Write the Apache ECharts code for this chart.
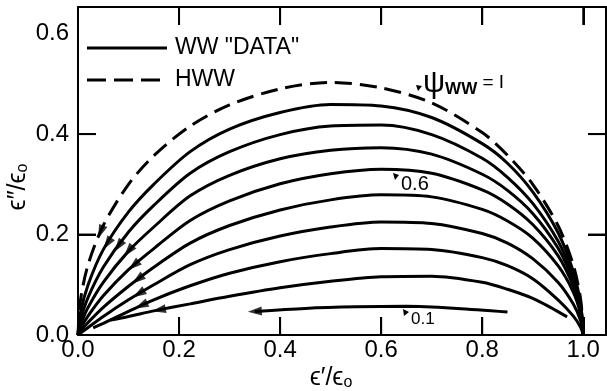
<!DOCTYPE html>
<html><head><meta charset="utf-8">
<script src="https://cdn.jsdelivr.net/npm/echarts@6/dist/echarts.min.js"></script>
<style>html,body{margin:0;padding:0;background:#fff}#c{width:607px;height:391px}</style>
</head><body><div id="c"></div>
<script>
// ---- data ----
const xTicks = [0, 0.2, 0.4, 0.6, 0.8, 1.0];
const yTicks = [0, 0.2, 0.4, 0.6];
const xTickMarks = [0.2, 0.4, 0.6, 0.8, 1.0];
const yTickMarks = [0.2, 0.4];
const X_MAX = 1.045, Y_MAX = 0.653;
const X_MAIN = [0, 0.005, 0.02, 0.05, 0.1, 0.15, 0.222, 0.3, 0.4, 0.5, 0.6, 0.7, 0.8, 0.85, 0.9, 0.95, 0.98, 0.995, 1.0];
const hwwY  = [0, 0.07, 0.14, 0.218, 0.3, 0.357, 0.416, 0.458, 0.49, 0.503, 0.492, 0.462, 0.403, 0.358, 0.3, 0.218, 0.14, 0.07, 0];
const ww09Y = [0, 0.045, 0.1, 0.17, 0.245, 0.3, 0.365, 0.41, 0.443, 0.459, 0.456, 0.433, 0.381, 0.342, 0.285, 0.204, 0.127, 0.06, 0];
const ww08Y = [0, 0.03, 0.075, 0.135, 0.205, 0.258, 0.322, 0.365, 0.399, 0.416, 0.418, 0.399, 0.352, 0.314, 0.262, 0.187, 0.117, 0.056, 0];
const ww07Y = [0, 0.02, 0.055, 0.105, 0.167, 0.215, 0.277, 0.318, 0.351, 0.368, 0.373, 0.36, 0.32, 0.288, 0.242, 0.173, 0.108, 0.052, 0];
const ww06Y = [0, 0.013, 0.038, 0.078, 0.13, 0.172, 0.228, 0.267, 0.301, 0.321, 0.33, 0.322, 0.289, 0.261, 0.22, 0.158, 0.098, 0.047, 0];
const ww05Y = [0, 0.008, 0.025, 0.055, 0.097, 0.135, 0.183, 0.218, 0.249, 0.269, 0.279, 0.275, 0.25, 0.227, 0.193, 0.138, 0.086, 0.04, 0];
const ww04Y = [0, 0.004, 0.015, 0.037, 0.07, 0.1, 0.14, 0.17, 0.197, 0.215, 0.225, 0.222, 0.202, 0.183, 0.152, 0.105, 0.062, 0.028, 0];
const ww03X = [0.03, 0.05, 0.1, 0.15, 0.222, 0.3, 0.4, 0.5, 0.6, 0.7, 0.8, 0.85, 0.9, 0.95, 0.98, 0.995, 1.0];
const ww03Y = [0.014, 0.023, 0.047, 0.07, 0.098, 0.123, 0.146, 0.162, 0.172, 0.17, 0.154, 0.138, 0.112, 0.07, 0.038, 0.015, 0];
const ww02X = [0.065, 0.1, 0.15, 0.222, 0.3, 0.4, 0.5, 0.6, 0.7, 0.8, 0.85, 0.9, 0.935, 0.968];
const ww02Y = [0.03, 0.037, 0.048, 0.062, 0.077, 0.094, 0.107, 0.116, 0.117, 0.105, 0.091, 0.073, 0.055, 0.036];
const ww01X = [0.35, 0.45, 0.55, 0.65, 0.75, 0.85];
const ww01Y = [0.047, 0.053, 0.056, 0.057, 0.053, 0.046];
// where the arrowheads sit (x position along each curve)
const curveNames = ['HWW', '0.9', '0.8', '0.7', '0.6', '0.5', '0.4', '0.3', '0.2', '0.1'];
const arrowAtX   = [0.045, 0.058, 0.08, 0.1, 0.11, 0.118, 0.12, 0.125, 0.16, 0.35];

const curves = [
  [X_MAIN, hwwY], [X_MAIN, ww09Y], [X_MAIN, ww08Y], [X_MAIN, ww07Y], [X_MAIN, ww06Y],
  [X_MAIN, ww05Y], [X_MAIN, ww04Y], [ww03X, ww03Y], [ww02X, ww02Y], [ww01X, ww01Y]
];
function zip(xs, ys) { return xs.map((x, i) => [x, ys[i]]); }
function interp(xs, ys, x) {
  for (let i = 0; i < xs.length - 1; i++) {
    if (x >= xs[i] && x <= xs[i + 1]) {
      const t = (x - xs[i]) / (xs[i + 1] - xs[i]);
      return [ys[i] + t * (ys[i + 1] - ys[i]), (ys[i + 1] - ys[i]) / (xs[i + 1] - xs[i])];
    }
  }
  return [ys[0], 0];
}
const FONT = 'Liberation Sans';
const chart = echarts.init(document.getElementById('c'), null, { renderer: 'canvas' });

const series = curves.map((c, i) => ({
  type: 'line',
  name: i === 0 ? 'HWW' : 'WW "DATA"',
  data: zip(c[0], c[1]),
  smooth: 0.3,
  showSymbol: false,
  symbol: 'none',
  silent: true,
  lineStyle: { color: '#000', width: 3, type: i === 0 ? [17, 8] : 'solid', cap: 'butt' },
  z: 3
}));
const arrowData = curves.map((c, i) => {
  const [y, slope] = interp(c[0], c[1], arrowAtX[i]);
  return [arrowAtX[i], y, slope];
});
series.push({
  type: 'scatter',
  data: arrowData,
  symbol: 'triangle',
  symbolSize: [9, 14],
  symbolRotate: function (v) {
    const th = Math.atan2(-v[2], -1) * 180 / Math.PI;
    return th - 90;
  },
  itemStyle: { color: '#000' },
  silent: true,
  z: 4
});

// inward tick marks on all four sides, as short segments through the axis scales
const TICK_DX = 0.0356, TICK_DY = 0.0358;   // ~18 px in data units
function tickSeries(a, b) {
  return { type: 'line', data: [a, b], showSymbol: false, symbol: 'none', silent: true, clip: false,
    lineStyle: { color: '#000', width: 2, cap: 'butt' }, z: 6 };
}
xTickMarks.forEach(v => {
  series.push(tickSeries([v, 0], [v, TICK_DY]));
  series.push(tickSeries([v, Y_MAX], [v, Y_MAX - TICK_DY]));
});
yTickMarks.forEach(v => {
  series.push(tickSeries([0, v], [TICK_DX, v]));
  series.push(tickSeries([X_MAX, v], [X_MAX - TICK_DX, v]));
});

const OFF = 10;
const tickStyle = { show: true, inside: true, length: 18, lineStyle: { color: '#000', width: 2 } };
chart.setOption({
  animation: false,
  backgroundColor: '#fff',
  grid: { left: 78, right: 1, top: 7, bottom: 56 },
  xAxis: [
    { type: 'value', min: 0, max: X_MAX, interval: 0.2, position: 'bottom',
      axisLine: { show: true, lineStyle: { color: '#000', width: 2 } },
      splitLine: { show: false },
      axisTick: Object.assign({}, tickStyle, { customValues: xTickMarks }),
      axisLabel: { customValues: xTicks, formatter: v => v.toFixed(1), color: '#000', fontFamily: FONT, fontSize: 24, margin: 3 } },
    { type: 'value', min: OFF, max: OFF + X_MAX, interval: 0.2, position: 'top',
      axisLine: { show: true, onZeroAxisIndex: 1, lineStyle: { color: '#000', width: 2 } },
      splitLine: { show: false },
      axisTick: Object.assign({}, tickStyle, { customValues: xTickMarks.map(v => OFF + v) }),
      axisLabel: { show: false } }
  ],
  yAxis: [
    { type: 'value', min: 0, max: Y_MAX, interval: 0.2, position: 'left',
      axisLine: { show: true, lineStyle: { color: '#000', width: 2 } },
      splitLine: { show: false },
      axisTick: Object.assign({}, tickStyle, { customValues: yTickMarks }),
      axisLabel: { customValues: yTicks, formatter: v => v.toFixed(1), color: '#000', fontFamily: FONT, fontSize: 24, margin: 9 } },
    { type: 'value', min: OFF, max: OFF + Y_MAX, interval: 0.2, position: 'right',
      axisLine: { show: true, onZeroAxisIndex: 1, lineStyle: { color: '#000', width: 2 } },
      splitLine: { show: false },
      axisTick: Object.assign({}, tickStyle, { customValues: yTickMarks.map(v => OFF + v) }),
      axisLabel: { show: false } }
  ],
  series: series,
  graphic: [
    { type: 'line', shape: { x1: 87, y1: 48, x2: 167, y2: 48 }, style: { stroke: '#000', lineWidth: 3 } },
    { type: 'line', shape: { x1: 87, y1: 80, x2: 167, y2: 80 }, style: { stroke: '#000', lineWidth: 3, lineDash: [19, 8] } },
    { type: 'text', x: 175, y: 48, style: { text: 'WW "DATA"', font: '23px "Liberation Sans"', fill: '#000', verticalAlign: 'middle' } },
    { type: 'text', x: 175, y: 80, style: { text: 'HWW', font: '23px "Liberation Sans"', fill: '#000', verticalAlign: 'middle' } },
    { type: 'text', x: 423, y: 83, style: {
        text: '{p|ψ}{s|WW}{e| = I}', verticalAlign: 'middle',
        rich: {
          p: { fontFamily: FONT, fontSize: 31, fill: '#000' },
          s: { fontFamily: FONT, fontSize: 17, fontWeight: 'bold', fill: '#000', padding: [12, 0, 0, 0] },
          e: { fontFamily: FONT, fontSize: 19, fill: '#000' }
        } } },
    { type: 'polygon', shape: { points: [[416, 85], [422, 86], [418, 91]] }, style: { fill: '#000' } },
    { type: 'text', x: 401, y: 184, style: { text: '0.6', font: '20px "Liberation Sans"', fill: '#000', verticalAlign: 'middle' } },
    { type: 'polygon', shape: { points: [[393, 173], [399, 175], [395, 180]] }, style: { fill: '#000' } },
    { type: 'text', x: 411, y: 319, style: { text: '0.1', font: '17px "Liberation Sans"', fill: '#000', verticalAlign: 'middle' } },
    { type: 'polygon', shape: { points: [[403, 309], [409, 312], [404, 316]] }, style: { fill: '#000' } },
    { type: 'text', x: 331, y: 378, style: {
        text: '{a|ϵ′/ϵ}{b|o}', align: 'center', verticalAlign: 'middle',
        rich: { a: { fontFamily: FONT, fontSize: 25, fill: '#000' }, b: { fontFamily: FONT, fontSize: 16, fill: '#000', padding: [9, 0, 0, 0] } } } },
    { type: 'text', x: 18, y: 187, rotation: Math.PI / 2, style: {
        text: '{a|ϵ″/ϵ}{b|o}', align: 'center', verticalAlign: 'middle',
        rich: { a: { fontFamily: FONT, fontSize: 25, fill: '#000' }, b: { fontFamily: FONT, fontSize: 16, fill: '#000', padding: [9, 0, 0, 0] } } } }
  ]
});
</script></body></html>
